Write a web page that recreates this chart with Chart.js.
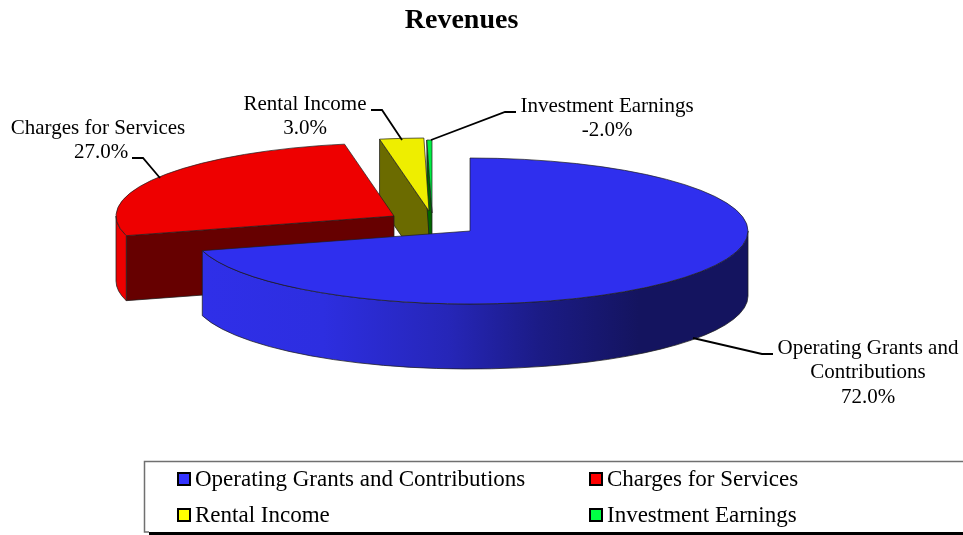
<!DOCTYPE html>
<html>
<head>
<meta charset="utf-8">
<title>Revenues</title>
<script src="https://cdn.jsdelivr.net/npm/chart.js@4"></script>
<style>
  html, body { margin:0; padding:0; background:#fff; overflow:hidden; }
  canvas { display:block; }
</style>
</head>
<body>
<canvas id="pie" width="963" height="535"></canvas>
<script>
/* ---------- data ---------- */
const categories = ['Operating Grants and Contributions', 'Charges for Services', 'Rental Income', 'Investment Earnings'];
const percentLabels = ['72.0%', '27.0%', '3.0%', '-2.0%'];
// slice sizes (the -2% slice is only a sliver there)
const sliceValues = [72, 27, 2.6, 0.3];

const topColors = ['#2f2fee', '#ee0000', '#eeee00', '#00ee44'];
const wallColors = ['#14145f', '#660000', '#6b6b00', '#006600'];
const swatchColors = ['#3333ff', '#ff0000', '#ffff00', '#00ff44'];

/* ---------- 3d look ---------- */
const FONT = '"Liberation Serif", "Times New Roman", serif';
const PIE = { x:470, y:231, rx:278, ry:73, depth:65 };
// screen shift of each exploded slice
const explodeX = [0, -76, -41, -38];
const explodeY = [0, -15, -20, -18];
const wallOrder = [2, 3, 1, 0];

let base = null;

function sliceCenter(i){
  return { x: PIE.x + explodeX[i], y: PIE.y + explodeY[i] };
}

function drawSide(ctx, i, arc){
  const c = sliceCenter(i);
  const a = arc.startAngle, b = arc.endAngle;
  ctx.lineWidth = 1;
  ctx.strokeStyle = 'rgba(30,30,30,0.75)';

  // radial walls, only the ones facing the viewer
  [[a, Math.cos(a) < 0], [b, Math.cos(b) > 0]].forEach(([ang, visible]) => {
    if(!visible) return;
    const px = c.x + Math.cos(ang) * PIE.rx, py = c.y + Math.sin(ang) * PIE.ry;
    ctx.beginPath();
    ctx.moveTo(c.x, c.y);
    ctx.lineTo(px, py);
    ctx.lineTo(px, py + PIE.depth);
    ctx.lineTo(c.x, c.y + PIE.depth);
    ctx.closePath();
    ctx.fillStyle = wallColors[i];
    ctx.fill();
    ctx.stroke();
  });

  // rim, the front half of the ellipse
  const from = Math.max(a, 0), to = Math.min(b, Math.PI);
  if(to <= from) return;
  ctx.beginPath();
  ctx.ellipse(c.x, c.y, PIE.rx, PIE.ry, 0, from, to);
  ctx.ellipse(c.x, c.y + PIE.depth, PIE.rx, PIE.ry, 0, to, from, true);
  ctx.closePath();
  if(i === 0){
    const g = ctx.createLinearGradient(203, 0, 748, 0);
    g.addColorStop(0, '#2f2fe8');
    g.addColorStop(0.22, '#2d2ee0');
    g.addColorStop(0.45, '#2626b8');
    g.addColorStop(0.62, '#1b1b85');
    g.addColorStop(0.8, '#14145f');
    g.addColorStop(1, '#14145f');
    ctx.fillStyle = g;
  } else {
    ctx.fillStyle = topColors[i];
  }
  ctx.fill();
  ctx.stroke();
}

function outlineTop(ctx, i, arc){
  const c = sliceCenter(i);
  ctx.beginPath();
  ctx.moveTo(c.x, c.y);
  ctx.ellipse(c.x, c.y, PIE.rx, PIE.ry, 0, arc.startAngle, arc.endAngle);
  ctx.closePath();
  ctx.lineWidth = 1;
  ctx.strokeStyle = 'rgba(30,30,30,0.7)';
  ctx.stroke();
}

/* ---------- leader lines + labels ---------- */
function polyline(ctx, pts){
  ctx.beginPath();
  pts.forEach((p, k) => k ? ctx.lineTo(p[0], p[1]) : ctx.moveTo(p[0], p[1]));
  ctx.lineWidth = 1.8;
  ctx.strokeStyle = '#000';
  ctx.stroke();
}

function drawLabels(ctx){
  ctx.fillStyle = '#000';
  ctx.textAlign = 'center';
  ctx.textBaseline = 'alphabetic';
  ctx.font = '21px ' + FONT;
  ctx.fillText('Operating Grants and', 868, 354);
  ctx.fillText('Contributions', 868, 378);
  ctx.fillText(percentLabels[0], 868, 403);
  ctx.fillText(categories[1], 98, 134);
  ctx.fillText(percentLabels[1], 101, 158);
  ctx.fillText(categories[2], 305, 110);
  ctx.fillText(percentLabels[2], 305, 134);
  ctx.fillText(categories[3], 607, 112);
  ctx.fillText(percentLabels[3], 607, 136);

  polyline(ctx, [[773,354],[762,354],[693,338]]);
  polyline(ctx, [[132,158],[143,158],[160,178]]);
  polyline(ctx, [[371,110],[382,110],[402,140]]);
  polyline(ctx, [[516,112],[505,112],[431,140]]);
}

/* ---------- legend box ---------- */
function drawLegend(ctx){
  ctx.fillStyle = '#000';
  ctx.fillRect(149, 532, 814, 3);
  ctx.fillStyle = '#fff';
  ctx.fillRect(145, 461, 818, 71);
  ctx.strokeStyle = '#707070';
  ctx.lineWidth = 1.5;
  ctx.beginPath();
  ctx.moveTo(964, 461.5);
  ctx.lineTo(144.5, 461.5);
  ctx.lineTo(144.5, 532);
  ctx.lineTo(149, 532);
  ctx.stroke();

  const cols = [177, 589], rows = [472, 508];
  categories.forEach((name, i) => {
    const x = cols[i % 2], y = rows[Math.floor(i / 2)];
    ctx.fillStyle = swatchColors[i];
    ctx.strokeStyle = '#000';
    ctx.lineWidth = 2;
    ctx.fillRect(x + 1, y + 1, 12, 12);
    ctx.strokeRect(x + 1, y + 1, 12, 12);
    ctx.fillStyle = '#000';
    ctx.textAlign = 'left';
    ctx.font = '23px ' + FONT;
    ctx.fillText(name, x + 18, y + 14);
  });
}

/* ---------- plugin: tilts the library's arcs and adds the depth ---------- */
const pie3d = {
  id: 'pie3d',
  afterDatasetsUpdate(chart){
    const arcs = chart.getDatasetMeta(0).data;
    const first = arcs[0];
    base = { x:first.x, y:first.y, r:first.outerRadius };
    base.sx = PIE.rx / base.r;
    base.sy = PIE.ry / base.r;
    arcs.forEach((arc, i) => {
      arc.x = base.x + explodeX[i] / base.sx;
      arc.y = base.y + explodeY[i] / base.sy;
    });
  },
  beforeDatasetsDraw(chart){
    const ctx = chart.ctx;
    const arcs = chart.getDatasetMeta(0).data;
    wallOrder.forEach(i => drawSide(ctx, i, arcs[i]));
    ctx.save();
    ctx.translate(PIE.x, PIE.y);
    ctx.scale(base.sx, base.sy);
    ctx.translate(-base.x, -base.y);
  },
  afterDatasetsDraw(chart){
    const ctx = chart.ctx;
    ctx.restore();
    chart.getDatasetMeta(0).data.forEach((arc, i) => outlineTop(ctx, i, arc));
  },
  afterDraw(chart){
    drawLabels(chart.ctx);
    drawLegend(chart.ctx);
  }
};

new Chart(document.getElementById('pie'), {
  type: 'pie',
  data: {
    labels: categories,
    datasets: [{
      data: sliceValues,
      backgroundColor: topColors,
      borderWidth: 0,
      clip: false
    }]
  },
  options: {
    responsive: false,
    animation: false,
    events: [],
    layout: { padding: { right:40 } },
    plugins: {
      legend: { display:false },
      tooltip: { enabled:false },
      title: {
        display: true,
        text: 'Revenues',
        color: '#000',
        font: { family: FONT, size:28, weight:'bold' },
        padding: { top:4, bottom:6 }
      }
    }
  },
  plugins: [pie3d]
});
</script>
</body>
</html>
